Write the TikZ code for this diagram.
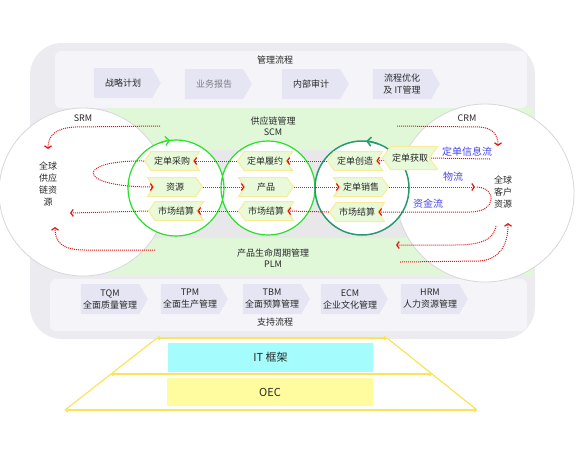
\documentclass[tikz,border=0pt]{standalone}
\usepackage{fontspec}
\setmainfont{Noto Sans CJK SC}
\usetikzlibrary{arrows.meta,shapes.symbols}
\definecolor{panelgray}{RGB}{236,236,240}
\definecolor{panellight}{RGB}{245,245,249}
\definecolor{scmgreen}{RGB}{224,248,216}
\definecolor{midgray}{RGB}{232,232,234}
\definecolor{boxlav}{RGB}{229,229,243}
\definecolor{tagfill}{RGB}{232,250,218}
\definecolor{tagline}{RGB}{248,236,150}
\definecolor{flowred}{RGB}{225,20,20}
\definecolor{loopgreen}{RGB}{40,225,40}
\definecolor{loopteal}{RGB}{40,155,110}
\definecolor{flowblue}{RGB}{70,70,235}
\definecolor{framey}{RGB}{250,228,90}
\definecolor{itcyan}{RGB}{165,252,252}
\definecolor{oecyellow}{RGB}{255,252,160}
\definecolor{textdark}{RGB}{40,40,40}
\definecolor{ringgray}{RGB}{215,215,218}
\begin{document}
\begin{tikzpicture}[x=1pt,y=-1pt,
    every node/.style={font=\fontsize{9}{12}\selectfont, text=textdark},
    redtip/.tip={Straight Barb[length=2.5pt,width=7pt,line width=1.2pt]},
    flow/.style={flowred, densely dotted, line width=1pt},
    procbox/.style={signal, signal to=east, signal pointer angle=120, fill=boxlav,
        minimum width=67pt, minimum height=30pt, inner sep=2pt, align=center},
    tagbase/.style={signal, signal pointer angle=110, fill=tagfill, draw=tagline,
        line width=1pt, minimum width=55pt, minimum height=19pt, inner sep=1pt},
    tagl/.style={tagbase, signal to=west, signal from=east},
    tagr/.style={tagbase, signal to=east, signal from=west},
    bluelabel/.style={text=flowblue, font=\fontsize{10}{12}\selectfont},
    ring/.style={fill=white, draw=ringgray, line width=0.8pt},
    frameline/.style={framey, line width=1.2pt}]
\useasboundingbox (0,0) rectangle (580,451);
\fill[panelgray, rounded corners=32pt] (30,43) rectangle (535,339);
\fill[panellight, rounded corners=6pt] (55,51) rectangle (527,108);
\fill[scmgreen] (110,108) rectangle (533,275);
\fill[midgray] (110,150) rectangle (533,238);
\fill[panellight, rounded corners=6pt] (50,279) rectangle (527,331);
\node (mgmt) at (275,60) {管理流程};
\node (plan) at (123,83) [procbox] {战略计划};
\node (report) at (214,84) [procbox, text={rgb,255:red,125;green,125;blue,135}] {业务报告};
\node (audit) at (311,84) [procbox] {内部审计};
\node (optim) at (402,84) [procbox] {流程优化\\及 IT管理};
\draw[ring] (83,192) circle (84);
\draw[ring] (485,193) circle (89);
\node (srm) at (83,118) {SRM};
\node (crm) at (467,118) {CRM};
\node (supply) at (48,184.5) [align=center] {全球\\供应\\链资\\源};
\node (cust) at (503,192.5) [align=center] {全球\\客户\\资源};
\node (scm) at (273,126) [align=center, font=\fontsize{9}{11}\selectfont] {供应链管理\\SCM};
\node (plm) at (273,258.5) [align=center, font=\fontsize{9}{11}\selectfont] {产品生命周期管理\\PLM};
\fill[white] (176,188) circle (48) (268,188) circle (47) (362,188) circle (47);
\draw[loopgreen, line width=1.2pt] (176,188) circle (48) (268,188) circle (47);
\draw[loopteal, line width=1.5pt] (362,188) circle (47);
\draw[loopgreen, line width=1.2pt, -{Straight Barb[length=4pt,width=9pt]}] (176,188) ++(250:48) arc[start angle=250, end angle=263, radius=48];
\draw[loopteal, line width=1.5pt, -{Straight Barb[length=4pt,width=9pt]}] (362,188) ++(290:47) arc[start angle=290, end angle=275, radius=47];
\node (buy) at (172,161) [tagl] {定单采购};
\node (fulfil) at (265,161) [tagl] {定单履约};
\node (create) at (355,161) [tagl] {定单创造};
\node (res) at (175,187) [tagr] {资源};
\node (prod) at (266,187) [tagr] {产品};
\node (sell) at (361,187) [tagr] {定单销售};
\node (pay1) at (176,211) [tagl] {市场结算};
\node (pay2) at (266,211) [tagl] {市场结算};
\node (pay3) at (357,212) [tagl] {市场结算};
\draw[flow, -redtip] (410,158) -- (create.east);
\node (get) at (410,158) [tagl, minimum height=23pt] {定单获取};
\coordinate (srmtop) at (160,126);
\coordinate (srmin) at (48,149);
\coordinate (plmleft) at (155,250);
\coordinate (srmup) at (55,227);
\coordinate (srmout) at (70,213);
\coordinate (crmtop) at (397,126);
\coordinate (crmin) at (498,146);
\coordinate (infofrom) at (490,159);
\coordinate (wlend) at (475,187);
\coordinate (crmfrom) at (496,226);
\coordinate (crmleft) at (396,245);
\coordinate (plmright) at (400,262);
\coordinate (crmup) at (508,223);
\draw[flow, -redtip] (fulfil.west) -- (buy.east);
\draw[flow, -redtip] (create.west) -- (fulfil.east);
\draw[flow] (infofrom) -- (get.east);
\draw[flow, -redtip] (buy.west) .. controls (75,160) and (75,187) .. (res.west);
\draw[flow, -redtip] (res.east) -- (prod.west);
\draw[flow, -redtip] (prod.east) -- (sell.west);
\draw[flow, -redtip] (sell.east) -- (wlend);
\draw[flow, -redtip] ([xshift=2pt]wlend) .. controls (497,188) and (497,212) .. (470,212) -- (pay3.east);
\draw[flow, -redtip] (pay3.west) -- (pay2.east);
\draw[flow, -redtip] (pay2.west) -- (pay1.east);
\draw[flow, -redtip] (pay1.west) -- (srmout);
\draw[flow, -redtip] (srmtop) -- (75,127) .. controls (55,128) and (48,136) .. (srmin);
\draw[flow, -redtip] (plmleft) -- (85,250) .. controls (62,250) and (55,242) .. (srmup);
\draw[flow, -redtip] (crmtop) -- (480,127) .. controls (492,128) and (498,134) .. (crmin);
\draw[flow, -redtip] (crmfrom) .. controls (494,240) and (480,245) .. (455,245) -- (crmleft);
\draw[flow, -redtip] (plmright) -- (480,261) .. controls (500,259) and (508,245) .. (crmup);
\node (info) at (467,152) [bluelabel] {定单信息流};
\node (wl) at (453,177) [bluelabel] {物流};
\node (cash) at (428,204) [bluelabel] {资金流};
\node (tqm) at (110,299) [procbox] {TQM\\全面质量管理};
\node (tpm) at (190,299) [procbox] {TPM\\全面生产管理};
\node (tbm) at (272,299) [procbox] {TBM\\全面预算管理};
\node (ecm) at (350,299) [procbox] {ECM\\企业文化管理};
\node (hrm) at (430,299) [procbox] {HRM\\人力资源管理};
\node (support) at (275,322) {支持流程};
\draw[frameline] (157,338) -- (65,410) (387,338) -- (477,410);
\draw[frameline, {Straight Barb[length=2pt,width=4pt]}-{Straight Barb[length=2pt,width=4pt]}] (157,338) -- (387,338);
\draw[frameline, {Straight Barb[length=2pt,width=4pt]}-{Straight Barb[length=2pt,width=4pt]}] (111,374) -- (432,374);
\draw[frameline, {Straight Barb[length=2pt,width=4pt]}-{Straight Barb[length=2pt,width=4pt]}] (65,410) -- (477,410);
\node (it) at (270.5,357.5) [fill=itcyan, minimum width=205pt, minimum height=29pt, font=\fontsize{11}{13}\selectfont] {IT 框架};
\node (oec) at (270,392) [fill=oecyellow, minimum width=206pt, minimum height=28pt, font=\fontsize{11}{13}\selectfont] {OEC};
\end{tikzpicture}
\end{document}
